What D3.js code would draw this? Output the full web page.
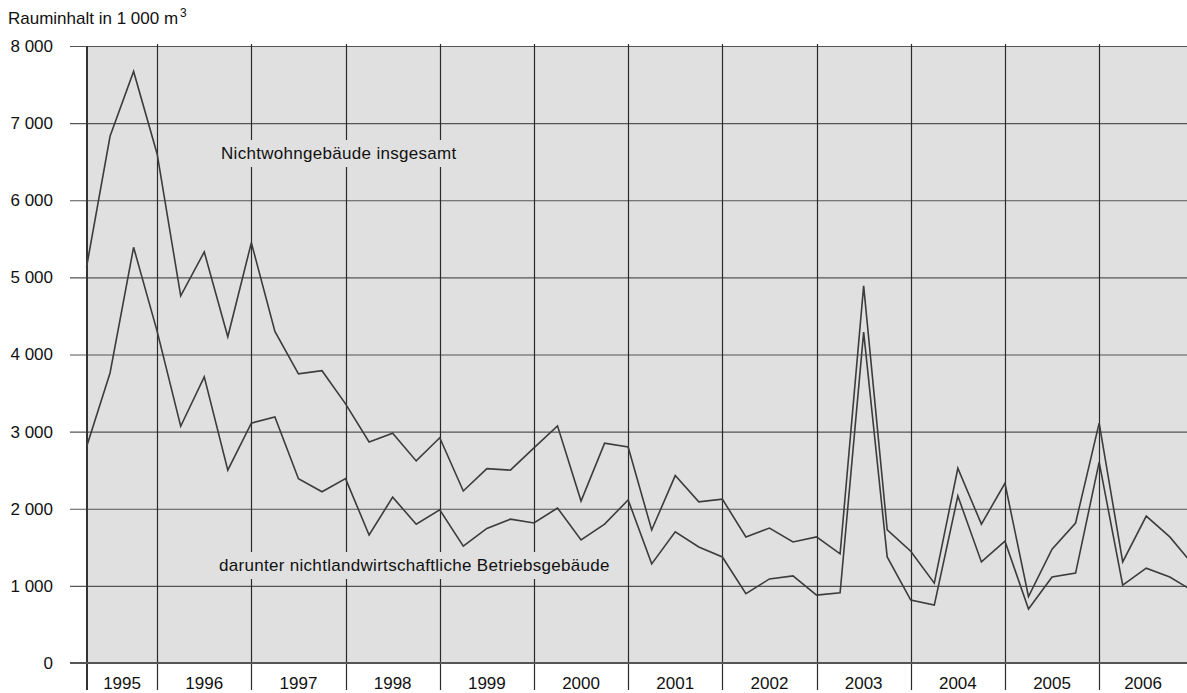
<!DOCTYPE html>
<html>
<head>
<meta charset="utf-8">
<script src="https://cdn.jsdelivr.net/npm/d3@7"></script>
<style>
  body { margin: 0; background: #fff; }
  text { font-family: "Liberation Sans", Arial, sans-serif; fill: #111; }
</style>
</head>
<body>
<script>
// quarterly values, 1995 Q1 .. 2006 Q4 (in 1 000 m3)
const years = ["1995", "1996", "1997", "1998", "1999", "2000", "2001", "2002", "2003", "2004", "2005", "2006"];
const totalValues = [
  5130, 6830, 7670, 6600,
  4760, 5330, 4230, 5450,
  4300, 3750, 3790, 3360,
  2865, 2980, 2620, 2920,
  2230, 2520, 2500, 2790,
  3075, 2100, 2850, 2800,
  1725, 2430, 2090, 2125,
  1635, 1750, 1570, 1635,
  1415, 4890, 1725, 1450,
  1035, 2525, 1800, 2330,
  860, 1475, 1815, 3110,
  1310, 1905, 1635, 1270
];
const businessValues = [
  2800, 3760, 5390, 4300,
  3070, 3710, 2500, 3110,
  3190, 2390, 2220, 2390,
  1660, 2150, 1800, 1985,
  1515, 1745, 1865, 1815,
  2010, 1595, 1800, 2115,
  1285, 1700, 1505, 1375,
  900, 1090, 1130, 880,
  910, 4290, 1375, 815,
  750, 2165, 1310, 1580,
  700, 1115, 1165, 2605,
  1010, 1230, 1115, 930
];
const yTicks = [0, 1000, 2000, 3000, 4000, 5000, 6000, 7000, 8000];
const seriesLabels = ["Nichtwohngebäude insgesamt", "darunter nichtlandwirtschaftliche Betriebsgebäude"];

var width = 1187, height = 693;
var plotLeft = 87, plotTop = 46, plotBottom = 663;

var svg = d3.select("body").append("svg")
    .attr("width", width)
    .attr("height", height);

var x = d3.scaleLinear().domain([0, 47]).range([86.5, 86.5 + 47 * 23.55]);
var y = d3.scaleLinear().domain([0, 8000]).range([plotBottom, plotTop]);

// grey plot background
svg.append("rect")
    .attr("x", plotLeft).attr("y", plotTop)
    .attr("width", width - plotLeft).attr("height", plotBottom - plotTop)
    .attr("fill", "#e0e0e0");

// horizontal grid + y labels
var yAxis = d3.axisLeft(y)
    .tickValues(yTicks)
    .tickSize(0)
    .tickFormat(d => d3.format(",")(d).replace(",", " "));

var gy = svg.append("g")
    .attr("transform", "translate(" + 70 + ",0)")
    .call(yAxis);
gy.select(".domain").remove();
gy.selectAll(".tick line")
    .attr("x2", width - 70)
    .attr("stroke", "#555")
    .attr("stroke-width", 1.2);
gy.selectAll(".tick text")
    .attr("x", -17)
    .style("font-size", "17px")
    .style("font-family", "Liberation Sans, Arial, sans-serif")
    .attr("fill", "#111");

// year dividers (at end of every Q4)
var dividers = d3.range(3, 47, 4);
svg.selectAll("line.year")
    .data(dividers)
    .enter().append("line")
    .attr("class", "year")
    .attr("x1", d => Math.round(x(d)) + 0.5)
    .attr("x2", d => Math.round(x(d)) + 0.5)
    .attr("y1", plotTop - 2)
    .attr("y2", 690)
    .attr("stroke", "#2a2a2a")
    .attr("stroke-width", 1.2);

// left border
svg.append("line")
    .attr("x1", plotLeft).attr("x2", plotLeft)
    .attr("y1", plotTop).attr("y2", 690)
    .attr("stroke", "#333").attr("stroke-width", 2);

// bottom axis line
svg.append("line")
    .attr("x1", 70).attr("x2", width)
    .attr("y1", plotBottom).attr("y2", plotBottom)
    .attr("stroke", "#555").attr("stroke-width", 2.2);

// year labels centred in the visible part of each year
svg.selectAll("text.year")
    .data(years)
    .enter().append("text")
    .attr("class", "year")
    .attr("x", (d, i) => {
      var a = i === 0 ? plotLeft : x(i * 4 - 1);
      var b = Math.min(x(i * 4 + 3), width);
      return (a + b) / 2;
    })
    .attr("y", 689)
    .attr("text-anchor", "middle")
    .style("font-size", "17px")
    .text(d => d);

// series labels with grey boxes masking the dividers
var labelPos = [{x: 221, y: 159}, {x: 219, y: 571}];
seriesLabels.forEach(function(t, i) {
  var g = svg.append("g");
  var txt = g.append("text")
      .attr("x", labelPos[i].x)
      .attr("y", labelPos[i].y)
      .style("font-size", "17px")
      .style("letter-spacing", "0.3px")
      .text(t);
  var bb = txt.node().getBBox();
  g.insert("rect", "text")
      .attr("x", bb.x - 3).attr("y", bb.y - 4)
      .attr("width", bb.width + 6).attr("height", bb.height + 8)
      .attr("fill", "#e0e0e0");
});

// lines
var line = d3.line()
    .x((d, i) => x(i))
    .y(d => y(d));

[totalValues, businessValues].forEach(function(vals) {
  svg.append("path")
      .datum(vals)
      .attr("fill", "none")
      .attr("stroke", "#3c3c3c")
      .attr("stroke-width", 1.6)
      .attr("stroke-linejoin", "miter")
      .attr("d", line);
});

// axis title
var title = svg.append("text")
    .attr("x", 8)
    .attr("y", 24)
    .style("font-size", "17px");
title.append("tspan").text("Rauminhalt in 1 000 m");
title.append("tspan")
    .attr("dy", -7)
    .attr("dx", 2)
    .style("font-size", "12px")
    .text("3");
</script>
</body>
</html>
